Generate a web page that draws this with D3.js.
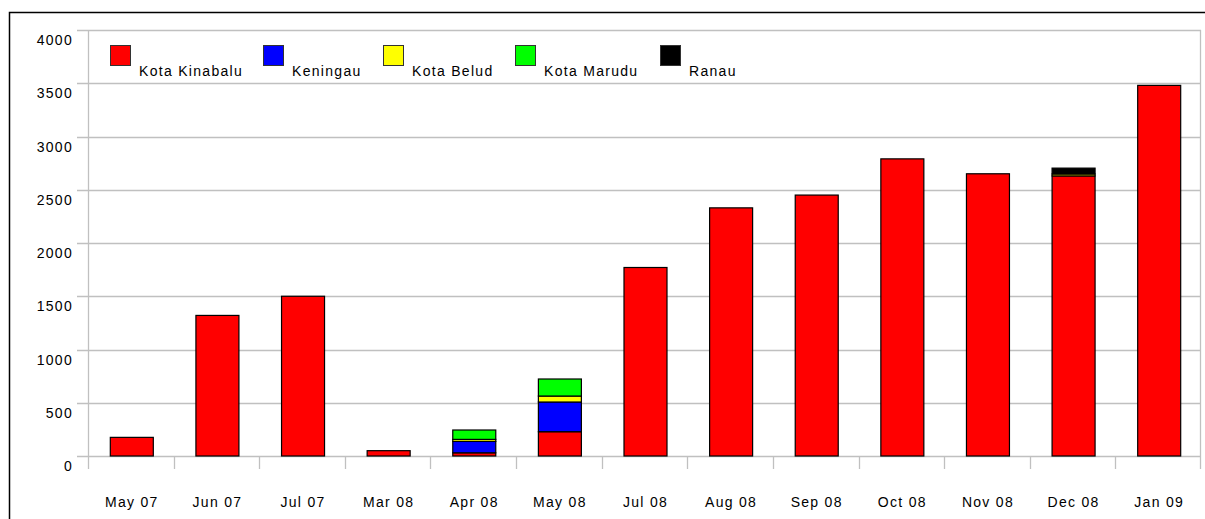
<!DOCTYPE html>
<html><head><meta charset="utf-8">
<script src="https://cdn.jsdelivr.net/npm/d3@7"></script>
<style>body{margin:0;background:#fff;}svg{display:block;font-family:"Liberation Sans",Arial,sans-serif;}</style>
</head><body><svg id="c" width="1205" height="519"></svg>
<script>
const categories = ["May 07","Jun 07","Jul 07","Mar 08","Apr 08","May 08","Jul 08","Aug 08","Sep 08","Oct 08","Nov 08","Dec 08","Jan 09"];
const seriesNames = ["Kota Kinabalu","Keningau","Kota Belud","Kota Marudu","Ranau"];
const seriesColors = ["#ff0000","#0000ff","#ffff00","#00ff00","#000000"];
const kotaKinabalu = [175,1320,1500,50,30,228,1770,2330,2450,2790,2650,2630,3480];
const keningau     = [0,0,0,0,107,279,0,0,0,0,0,0,0];
const kotaBelud    = [0,0,0,0,19,56,0,0,0,0,0,18,0];
const kotaMarudu   = [0,0,0,0,88,160,0,0,0,0,0,0,0];
const ranau        = [0,0,0,0,0,0,0,0,0,0,0,55,0];
const yTicks = [0,500,1000,1500,2000,2500,3000,3500,4000];

const seriesValues = [kotaKinabalu,keningau,kotaBelud,kotaMarudu,ranau];
const table = categories.map((c,i)=>{const o={cat:c};seriesNames.forEach((s,j)=>o[s]=seriesValues[j][i]);return o;});
const stacked = d3.stack().keys(seriesNames)(table);

const svg = d3.select("#c");
const L=88,R=1201,T=30,B=456;
const x = d3.scaleBand().domain(categories).range([L,R]).paddingInner(0).paddingOuter(0);
const y = d3.scaleLinear().domain([0,4000]).range([B,T]);

svg.append("rect").attr("x",9.5).attr("y",12.5).attr("width",1205).attr("height",520).attr("fill","none").attr("stroke","#000").attr("stroke-width",1.5);

const grid="#c0c0c0";
svg.append("g").selectAll("line").data(yTicks).join("line")
  .attr("x1",L-11).attr("x2",R).attr("y1",d=>Math.round(y(d))+0.5).attr("y2",d=>Math.round(y(d))+0.5)
  .attr("stroke",grid).attr("stroke-width",1.3);
svg.append("line").attr("x1",L+0.5).attr("x2",L+0.5).attr("y1",T).attr("y2",B+13).attr("stroke",grid).attr("stroke-width",1.3);
svg.append("line").attr("x1",R-0.5).attr("x2",R-0.5).attr("y1",T).attr("y2",B+13).attr("stroke",grid).attr("stroke-width",1.3);
svg.append("g").selectAll("line").data(categories.slice(1)).join("line")
  .attr("x1",d=>Math.round(x(d))+0.5).attr("x2",d=>Math.round(x(d))+0.5).attr("y1",B).attr("y2",B+13)
  .attr("stroke",grid).attr("stroke-width",1.3);

const fs=14, ls=1.3;
svg.append("g").selectAll("text").data(yTicks).join("text")
  .attr("x",73).attr("y",d=>y(d)+15).attr("text-anchor","end").attr("font-size",fs).attr("letter-spacing",ls).attr("fill","#000")
  .text(d=>String(d));
svg.append("g").selectAll("text").data(categories).join("text")
  .attr("x",d=>x(d)+x.bandwidth()/2+1).attr("y",507).attr("text-anchor","middle").attr("font-size",fs).attr("letter-spacing",ls).attr("fill","#000")
  .text(d=>d);

const bw=43;
stacked.forEach((layer,j)=>{
  svg.append("g").selectAll("rect").data(layer.filter(d=>d[1]-d[0]>0)).join("rect")
    .attr("x",d=>x(d.data.cat)+x.bandwidth()/2-bw/2+1)
    .attr("y",d=>y(d[1]))
    .attr("width",bw)
    .attr("height",d=>y(d[0])-y(d[1]))
    .attr("fill",seriesColors[j]).attr("stroke","#000").attr("stroke-width",1.2);
});

const legX=[110,263,383,515,660];
const lg=svg.append("g");
seriesNames.forEach((s,j)=>{
  lg.append("rect").attr("x",legX[j]+0.5).attr("y",45.5).attr("width",20).attr("height",20)
    .attr("fill",seriesColors[j]).attr("stroke","#333").attr("stroke-width",1);
  lg.append("text").attr("x",legX[j]+29).attr("y",76).attr("font-size",fs).attr("letter-spacing",ls).attr("fill","#000").text(s);
});
</script></body></html>
